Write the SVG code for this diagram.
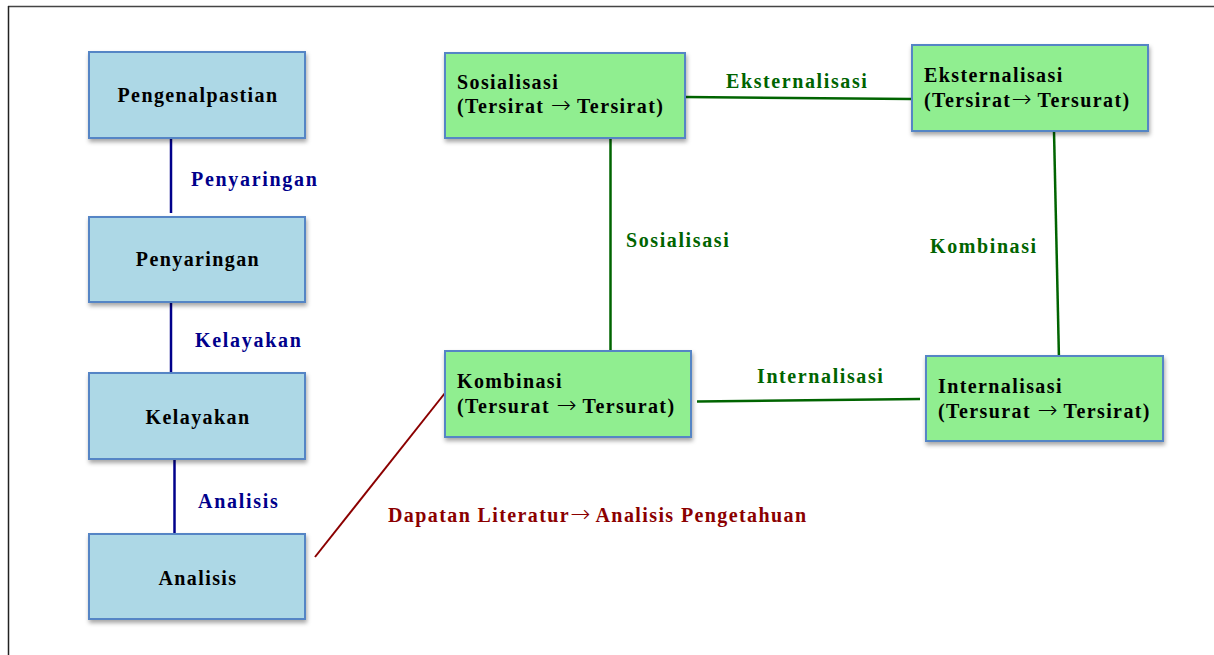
<svg xmlns="http://www.w3.org/2000/svg" width="1214" height="655" viewBox="0 0 1214 655">
<defs>
<filter id="sh" x="-10%" y="-10%" width="125%" height="135%">
<feDropShadow dx="1" dy="3" stdDeviation="2" flood-color="#000" flood-opacity="0.35"/>
</filter>
</defs>
<style>
.bb{fill:#ADD8E6;stroke:#5585C5;stroke-width:2;filter:url(#sh)}
.gb{fill:#90EE90;stroke:#5585C5;stroke-width:2;filter:url(#sh)}
text{font-family:"Liberation Serif","Times New Roman",serif;font-weight:bold;font-size:20px}
.t{fill:#000;letter-spacing:1.4px}
.t2{fill:#000;letter-spacing:1.4px}
.tc{text-anchor:middle}
.g{fill:#006400;letter-spacing:1.6px}
.bl{fill:#00008B;letter-spacing:1.7px}
.r{fill:#8B0000;letter-spacing:1.4px}
.ar{font-family:"DejaVu Sans",sans-serif;font-weight:200;font-size:24px;letter-spacing:0}
.lb{stroke:#00008B;stroke-width:2.5;fill:none}
.lg{stroke:#006400;stroke-width:2.5;fill:none}
.lr{stroke:#8B0000;stroke-width:2;fill:none}
</style>
<rect width="1214" height="655" fill="#fff"/>
<g id="frame">
<line x1="8" y1="6.5" x2="1214" y2="6.5" stroke="#444" stroke-width="1.5"/>
<line x1="8.5" y1="6" x2="8.5" y2="655" stroke="#222" stroke-width="1.5"/>
</g>
<g id="connectors">
<line class="lb" x1="171" y1="138" x2="171" y2="213"/>
<line class="lb" x1="171" y1="302" x2="171" y2="373"/>
<line class="lb" x1="174.5" y1="459" x2="174.5" y2="534"/>
<line class="lg" x1="685" y1="97" x2="912" y2="99"/>
<line class="lg" x1="610.5" y1="138" x2="610.5" y2="353"/>
<line class="lg" x1="1054" y1="131" x2="1059" y2="360"/>
<line class="lg" x1="697" y1="401.5" x2="920" y2="399"/>
<line class="lr" x1="315" y1="557" x2="445" y2="393"/>
<text class="bl" x="191" y="186">Penyaringan</text>
<text class="bl" x="195" y="347">Kelayakan</text>
<text class="bl" x="198" y="508">Analisis</text>
<text class="g" x="726" y="88">Eksternalisasi</text>
<text class="g" x="626" y="247">Sosialisasi</text>
<text class="g" x="930" y="253">Kombinasi</text>
<text class="g" x="757" y="383">Internalisasi</text>
<text class="r" x="388" y="522">Dapatan Literatur<tspan class="ar">→</tspan> Analisis Pengetahuan</text>
</g>
<g id="n-pengenalpastian">
<rect class="bb" x="89" y="52" width="216" height="86"/>
<text class="t tc" x="198" y="102">Pengenalpastian</text>
</g>
<g id="n-penyaringan">
<rect class="bb" x="89" y="217" width="216" height="85"/>
<text class="t tc" x="198" y="266">Penyaringan</text>
</g>
<g id="n-kelayakan">
<rect class="bb" x="89" y="373" width="216" height="86"/>
<text class="t tc" x="198" y="424">Kelayakan</text>
</g>
<g id="n-analisis">
<rect class="bb" x="89" y="534" width="216" height="85"/>
<text class="t tc" x="198" y="585">Analisis</text>
</g>
<g id="n-sosialisasi">
<rect class="gb" x="445" y="53" width="240" height="85"/>
<text class="t" x="457" y="89">Sosialisasi</text>
<text class="t2" x="457" y="113">(Tersirat <tspan class="ar">→</tspan> Tersirat)</text>
</g>
<g id="n-eksternalisasi">
<rect class="gb" x="912" y="45" width="236" height="86"/>
<text class="t" x="924" y="82">Eksternalisasi</text>
<text class="t2" x="924" y="107">(Tersirat<tspan class="ar">→</tspan> Tersurat)</text>
</g>
<g id="n-kombinasi">
<rect class="gb" x="445" y="351" width="246" height="86"/>
<text class="t" x="457" y="388">Kombinasi</text>
<text class="t2" x="457" y="413">(Tersurat <tspan class="ar">→</tspan> Tersurat)</text>
</g>
<g id="n-internalisasi">
<rect class="gb" x="926" y="356" width="237" height="85"/>
<text class="t" x="938" y="393">Internalisasi</text>
<text class="t2" x="938" y="418">(Tersurat <tspan class="ar">→</tspan> Tersirat)</text>
</g>
</svg>
